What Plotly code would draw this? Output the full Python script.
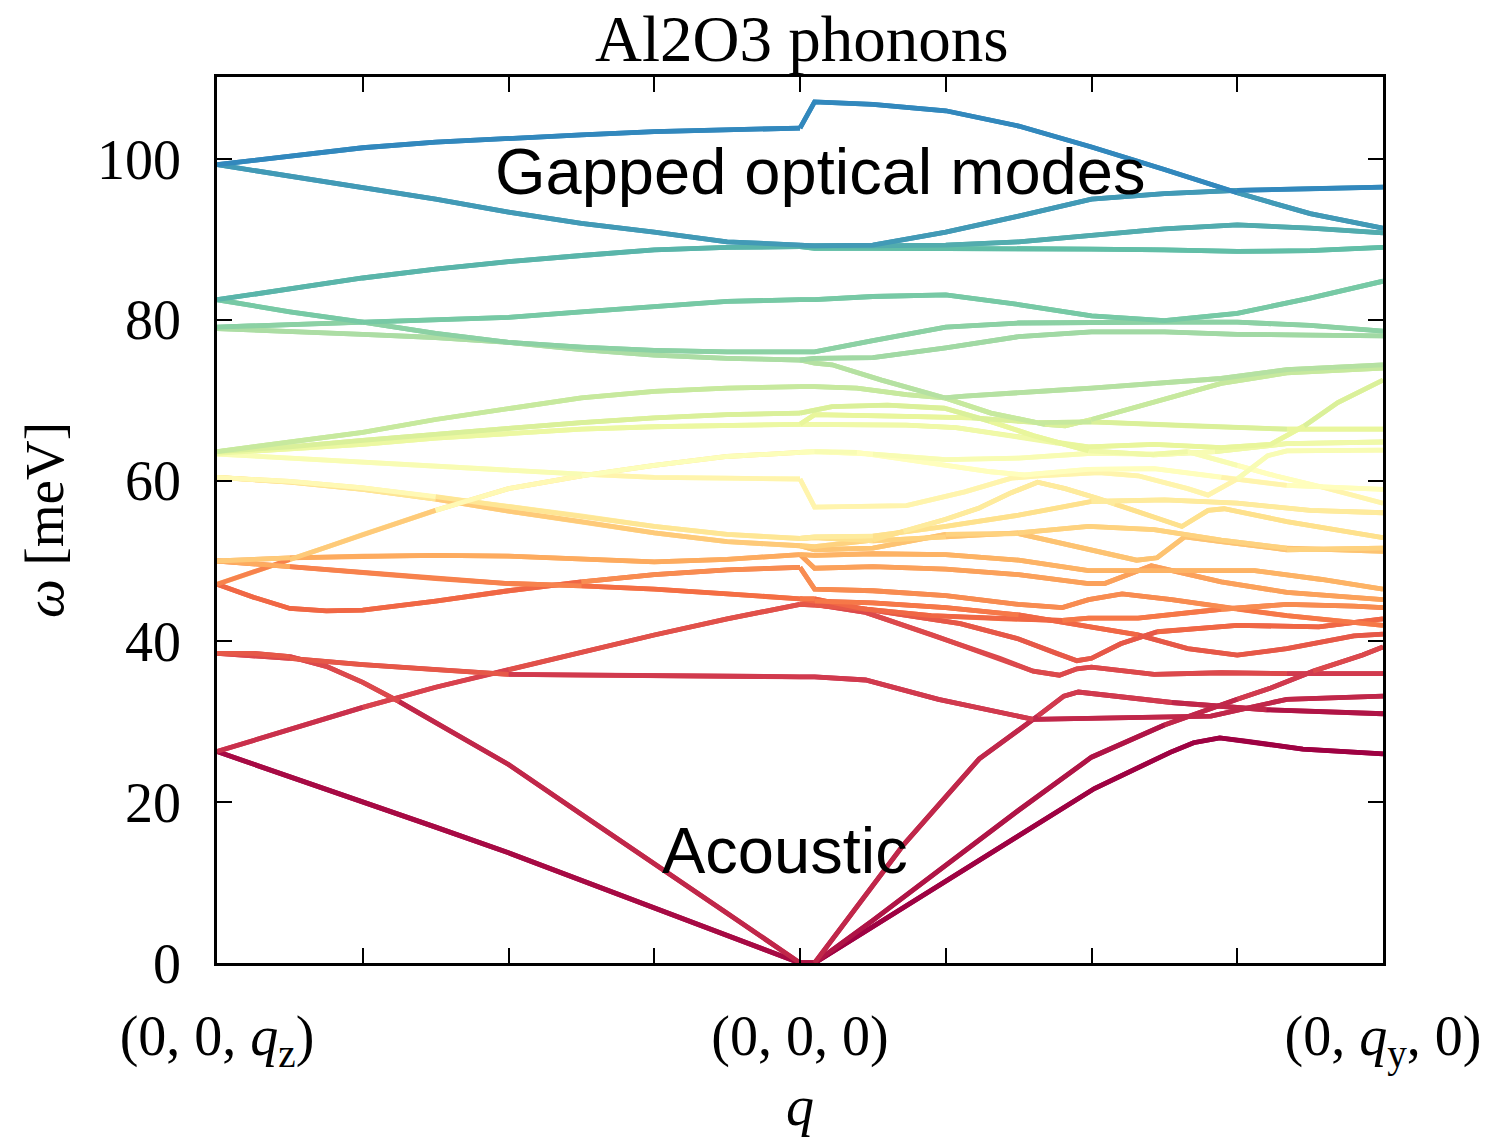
import numpy as np
import plotly.graph_objects as go
from plotly.colors import sample_colorscale, diverging

# ---------------- data: phonon branches (meV) ----------------
# Left path (0,0,qz) -> (0,0,0)
LEFT_Q = [0.0, 0.5, 1.0, 1.5, 2.0, 2.5, 3.0, 3.5, 4.0]
L_A = [99.3, 100.4, 101.4, 102.1, 102.6, 103.0, 103.4, 103.7, 103.85]
L_B = [99.3, 97.9, 96.5, 95.0, 93.4, 92.0, 90.9, 89.7, 89.3]
L_C = [82.5, 83.9, 85.2, 86.3, 87.25, 88.0, 88.7, 89.0, 89.1]
L_D = [82.5, 81.0, 79.7, 78.3, 77.2, 76.6, 76.2, 76.0, 76.0]
L_E = [79.1, 79.4, 79.7, 80.0, 80.3, 81.0, 81.7, 82.3, 82.5]
L_F = [78.9, 78.6, 78.2, 77.8, 77.2, 76.3, 75.6, 75.2, 75.0]
L_G = [63.6, 64.8, 66.0, 67.6, 69.0, 70.3, 71.1, 71.5, 71.7]
L_H = [63.6, 64.2, 65.0, 65.8, 66.5, 67.2, 67.8, 68.2, 68.4]
L_I = [63.4, 63.9, 64.5, 65.3, 65.9, 66.4, 66.7, 66.9, 67.0]
L_J = [63.3, 62.8, 62.3, 61.7, 61.2, 60.8, 60.4, 60.3, 60.2]
L_L = [60.4, 59.9, 59.1, 58.0, 56.8, 55.6, 54.3, 53.3, 52.8]
L_M = [60.4, 59.8, 58.9, 57.7, 56.2, 54.9, 53.5, 52.4, 51.9]
L_N = [50.0, 50.4, 50.6, 50.7, 50.6, 50.3, 49.9, 50.2, 50.8]
L_O = [50.0, 49.3, 48.5, 47.8, 47.2, 46.9, 46.5, 45.9, 45.3]
L_Q = [26.3, 29.0, 31.8, 34.3, 36.5, 38.7, 40.8, 42.8, 44.6]
L_S = [38.5, 37.9, 37.1, 36.5, 35.9, 35.8, 35.7, 35.7, 35.6]
L_T = [26.3, 23.2, 20.0, 16.9, 13.7, 10.3, 6.9, 3.4, 0.0]
FINE_Q = [0.0, 0.25, 0.5, 0.75, 1.0, 1.5, 2.0, 2.5, 3.0, 3.5, 4.0]
L_K = [47.1, 48.6, 50.2, 51.7, 53.3, 56.3, 59.0, 60.6, 61.9, 63.0, 63.5]
L_P = [47.1, 45.5, 44.1, 43.8, 43.9, 45.0, 46.3, 47.4, 48.3, 48.9, 49.2]
LR_Q = [0.0, 0.25, 0.5, 0.75, 1.0, 1.25, 1.5, 2.0, 2.5, 3.0, 3.5, 4.0]
L_R = [38.5, 38.5, 38.1, 36.9, 34.9, 32.5, 29.9, 24.7, 18.5, 12.4, 6.2, 0.0]

# (q, omega, degeneracy) -- degeneracies sum to 30 modes
LEFT_BRANCHES = [(LEFT_Q, L_A, 1), (LEFT_Q, L_B, 1), (LEFT_Q, L_C, 2),
                 (LEFT_Q, L_D, 1), (LEFT_Q, L_E, 1), (LEFT_Q, L_F, 2),
                 (LEFT_Q, L_G, 1), (LEFT_Q, L_H, 1), (LEFT_Q, L_I, 2),
                 (LEFT_Q, L_J, 1), (FINE_Q, L_K, 2), (LEFT_Q, L_L, 2),
                 (LEFT_Q, L_M, 2), (LEFT_Q, L_N, 2), (LEFT_Q, L_O, 2),
                 (FINE_Q, L_P, 1), (LEFT_Q, L_Q, 2), (LR_Q, L_R, 1),
                 (LEFT_Q, L_S, 1), (LEFT_Q, L_T, 2)]

# Right path (0,0,0) -> (0,qy,0)
RIGHT_Q = [4.0, 4.1, 4.5, 5.0, 5.5, 6.0, 6.5, 7.0, 7.5, 8.0]
R_1 = [103.85, 107.1, 106.8, 106.0, 104.1, 101.5, 98.7, 95.8, 93.2, 91.4]
R_2 = [89.3, 89.2, 89.3, 90.9, 92.9, 95.0, 95.7, 96.1, 96.3, 96.5]
R_3 = [89.1, 89.2, 89.2, 89.3, 89.7, 90.5, 91.3, 91.8, 91.4, 90.8]
R_4 = [89.1, 88.9, 88.9, 88.9, 88.9, 88.8, 88.7, 88.5, 88.6, 89.0]
R_5 = [82.5, 82.5, 82.9, 83.1, 81.9, 80.5, 79.9, 80.8, 82.7, 84.8]
R_6 = [76.0, 76.0, 77.4, 79.1, 79.6, 79.7, 79.7, 79.7, 79.3, 78.6]
R_7 = [75.0, 75.2, 75.3, 76.5, 77.9, 78.5, 78.5, 78.2, 78.1, 78.0]
R_K = [52.8, 53.0, 53.1, 54.3, 55.7, 57.4, 57.6, 57.2, 56.3, 56.0]

C_Q = [4.0, 4.1, 4.22, 4.56, 4.99, 5.31, 5.68, 5.82, 6.0, 6.43, 6.89, 7.34, 8.0]
C_W = [75.0, 74.6, 74.4, 72.5, 70.3, 68.4, 67.0, 66.8, 67.6, 69.7, 72.1, 73.4, 74.0]
D_Q = [4.0, 4.1, 4.39, 4.73, 4.99, 5.13, 5.82, 6.0, 6.89, 7.34, 8.0]
D_W = [71.7, 71.7, 71.5, 70.7, 70.3, 70.5, 71.3, 71.5, 72.7, 73.8, 74.4]
E_Q = [4.0, 4.1, 4.73, 5.18, 5.64, 6.0, 6.66, 7.34, 8.0]
E_W = [67.0, 68.2, 68.0, 67.8, 67.2, 67.3, 66.8, 66.4, 66.4]
F_Q = [4.0, 4.1, 4.73, 5.07, 5.41, 5.75, 5.98, 6.43, 6.89, 7.23, 7.46, 7.69, 8.0]
F_W = [67.0, 67.0, 66.9, 66.6, 65.7, 64.7, 64.2, 64.5, 64.1, 64.5, 66.8, 69.7, 72.5]
G_Q = [4.0, 4.1, 4.22, 4.6, 4.99, 5.3, 5.6, 5.98, 6.43, 6.85, 7.34, 8.0]
G_W = [68.4, 68.8, 69.2, 69.4, 69.0, 67.4, 65.6, 63.7, 63.2, 63.6, 64.6, 64.8]
G2_Q = [4.0, 4.1, 4.5, 5.0, 5.5, 6.0, 6.43, 6.66, 7.0, 7.26, 7.58, 8.0]
G2_W = [63.5, 63.6, 63.3, 62.6, 62.8, 63.4, 63.3, 63.6, 61.9, 60.6, 59.2, 57.2]
H_Q = [4.0, 4.1, 4.39, 4.85, 5.31, 5.54, 5.98, 6.43, 6.89, 7.34, 8.0]
H_W = [63.5, 63.6, 63.5, 62.3, 61.1, 60.7, 61.4, 61.5, 60.4, 59.4, 58.9]
I_Q = [4.0, 4.1, 4.73, 5.13, 5.45, 5.64, 6.05, 6.32, 6.66, 6.80, 7.0, 7.21, 7.34, 8.0]
I_W = [60.2, 56.7, 56.9, 58.6, 60.3, 60.6, 61.0, 60.6, 59.0, 58.2, 60.2, 63.1, 63.7, 63.8]
J_Q = [4.0, 4.1, 4.5, 4.71, 5.0, 5.23, 5.45, 5.63, 5.82, 6.04, 6.16, 6.55, 6.62, 6.8, 6.91, 7.34, 8.0]
J_W = [51.9, 51.8, 52.6, 53.7, 55.2, 56.6, 58.5, 59.8, 59.0, 57.8, 57.1, 54.7, 54.3, 56.3, 56.5, 54.9, 52.9]
Z3_Q = [4.0, 4.1, 4.5, 5.0, 5.5, 5.98, 6.43, 6.89, 7.34, 8.0]
Z3_W = [52.8, 52.9, 52.5, 53.0, 53.5, 54.3, 53.9, 52.6, 51.6, 51.2]
Z4_Q = [4.0, 4.1, 4.5, 5.0, 5.5, 5.98, 6.31, 6.45, 6.64, 6.89, 7.34, 8.0]
Z4_W = [51.9, 51.4, 51.6, 53.3, 53.4, 51.4, 50.1, 50.4, 53.0, 52.4, 51.4, 51.6]
Z5_Q = [4.0, 4.1, 4.5, 5.0, 5.5, 5.98, 6.43, 7.12, 7.58, 8.0]
Z5_W = [50.8, 50.7, 50.9, 50.8, 50.1, 48.8, 48.8, 48.8, 47.7, 46.5]
Z6_Q = [4.0, 4.1, 4.5, 5.0, 5.5, 5.98, 6.09, 6.41, 6.89, 7.34, 8.0]
Z6_W = [50.8, 49.1, 49.3, 49.0, 48.3, 47.2, 47.2, 49.4, 47.4, 46.1, 45.2]
Z7_Q = [4.0, 4.1, 4.5, 5.0, 5.5, 5.8, 5.98, 6.21, 6.55, 7.0, 7.34, 8.0]
Z7_W = [49.2, 46.5, 46.3, 45.7, 44.6, 44.2, 45.2, 45.9, 45.2, 44.0, 43.2, 42.0]
Z8_Q = [4.0, 4.1, 4.45, 4.9, 5.4, 5.8, 5.98, 6.32, 6.89, 7.34, 7.8, 8.0]
Z8_W = [45.3, 45.3, 44.0, 43.2, 42.8, 42.6, 42.9, 42.9, 44.0, 44.6, 44.4, 44.2]
Z9_Q = [4.0, 4.1, 4.5, 5.0, 5.5, 5.98, 6.32, 6.66, 7.0, 7.34, 7.8, 8.0]
Z9_W = [45.3, 45.0, 44.8, 44.2, 43.3, 41.8, 40.8, 39.1, 38.3, 39.1, 40.7, 40.9]
Z10_Q = [4.0, 4.1, 4.45, 5.1, 5.5, 5.76, 5.9, 6.0, 6.2, 6.45, 7.0, 7.56, 8.0]
Z10_W = [44.6, 44.5, 44.0, 42.2, 40.3, 38.5, 37.6, 37.9, 39.7, 41.2, 42.0, 41.8, 42.8]
Z11_Q = [4.0, 4.1, 4.45, 4.91, 5.37, 5.6, 5.78, 5.9, 6.0, 6.43, 6.89, 7.34, 8.0]
Z11_W = [44.6, 44.6, 43.6, 40.8, 37.9, 36.3, 35.8, 36.6, 36.8, 35.9, 36.1, 36.0, 36.0]
S_Q = [4.0, 4.1, 4.45, 4.95, 5.6, 6.3, 6.82, 7.34, 8.0]
S_W = [35.6, 35.6, 35.2, 32.8, 30.3, 30.5, 30.7, 32.8, 33.2]
AC1_Q = [4.0, 4.1, 4.71, 5.23, 5.63, 5.81, 5.91, 6.55, 7.2, 8.0]
AC1_W = [0.0, 0.0, 14.7, 25.4, 30.7, 33.2, 33.7, 32.4, 31.5, 31.0]
AC2_Q = [4.0, 4.1, 4.5, 5.0, 5.5, 6.0, 6.5, 7.0, 7.23, 7.52, 7.86, 8.0]
AC2_W = [0.0, 0.0, 5.3, 12.2, 19.0, 25.6, 29.6, 32.8, 34.2, 36.3, 38.3, 39.3]
AC3_Q = [4.0, 4.1, 6.02, 6.54, 6.70, 6.88, 7.06, 7.45, 8.0]
AC3_W = [0.0, 0.0, 21.7, 26.2, 27.4, 28.0, 27.6, 26.6, 26.0]

RIGHT_BRANCHES = [(RIGHT_Q, R_1, 1), (RIGHT_Q, R_2, 1), (RIGHT_Q, R_3, 1),
                  (RIGHT_Q, R_4, 1), (RIGHT_Q, R_5, 1), (RIGHT_Q, R_6, 1),
                  (RIGHT_Q, R_7, 1), (RIGHT_Q, R_K, 1),
                  (C_Q, C_W, 1), (D_Q, D_W, 1), (E_Q, E_W, 1), (F_Q, F_W, 1),
                  (G_Q, G_W, 1), (G2_Q, G2_W, 1), (H_Q, H_W, 1), (I_Q, I_W, 1),
                  (J_Q, J_W, 1), (Z3_Q, Z3_W, 1), (Z4_Q, Z4_W, 1),
                  (Z5_Q, Z5_W, 1), (Z6_Q, Z6_W, 1), (Z7_Q, Z7_W, 1),
                  (Z8_Q, Z8_W, 1), (Z9_Q, Z9_W, 1), (Z10_Q, Z10_W, 1),
                  (Z11_Q, Z11_W, 1), (S_Q, S_W, 1), (AC1_Q, AC1_W, 1),
                  (AC2_Q, AC2_W, 1), (AC3_Q, AC3_W, 1)]

X_TICKS = [0, 1, 2, 3, 4, 5, 6, 7, 8]
X_LABELS = ["(0, 0, <i>q</i><sub>z</sub>)", "", "", "", "(0, 0, 0)", "", "", "",
            "(0, <i>q</i><sub>y</sub>, 0)"]
Y_TICKS = [0, 20, 40, 60, 80, 100]
N_MODES = 30

# ---------------- colouring: band index (energy order) -> Spectral ----------------
SPEC = diverging.Spectral


def band_color(idx):
    return sample_colorscale(SPEC, [max(0.0, min(1.0, idx / (N_MODES - 1))) * 0.9])[0]


def segment_ranks(branches, k):
    """Energy-order index of each segment of branch k among all modes."""
    q, w, deg = branches[k]
    ranks = []
    for s in range(len(q) - 1):
        xm = 0.5 * (q[s] + q[s + 1])
        ym = 0.5 * (w[s] + w[s + 1])
        r = (deg - 1) / 2.0
        for j, (qj, wj, dj) in enumerate(branches):
            if j == k:
                continue
            v = float(np.interp(xm, qj, wj))
            if v < ym - 1e-6:
                r += dj
            elif abs(v - ym) <= 1e-6:
                r += dj / 2.0
        ranks.append(r)
    return ranks


fig = go.Figure()
LW = 4.8
segments = []
bases = []
for branches in (LEFT_BRANCHES, RIGHT_BRANCHES):
    for k, (q, w, deg) in enumerate(branches):
        ranks = segment_ranks(branches, k)
        bases.append((float(np.mean(ranks)), q, w))
        start = 0
        for s in range(1, len(ranks) + 1):
            if s == len(ranks) or abs(ranks[s] - ranks[start]) > 0.25:
                segments.append((ranks[start], q[start:s + 1], w[start:s + 1]))
                start = s

# full branch underneath (fills the joints), coloured segments on top
for r, qs, ws in sorted(bases, key=lambda t: t[0]):
    fig.add_trace(go.Scatter(x=qs, y=ws, mode="lines",
                             line=dict(color=band_color(r), width=LW),
                             showlegend=False, hoverinfo="skip"))
for r, qs, ws in sorted(segments, key=lambda t: t[0]):
    fig.add_trace(go.Scatter(x=qs, y=ws, mode="lines",
                             line=dict(color=band_color(r), width=LW),
                             showlegend=False, hoverinfo="skip"))

SERIF = "Liberation Serif, Times New Roman, serif"
SANS = "Liberation Sans, Arial, sans-serif"

fig.add_annotation(x=4.137, y=98.45, xref="x", yref="y", text="Gapped optical modes",
                   showarrow=False, font=dict(family=SANS, size=65, color="black"),
                   xanchor="center", yanchor="middle")
fig.add_annotation(x=3.9, y=14.0, xref="x", yref="y", text="Acoustic",
                   showarrow=False, font=dict(family=SANS, size=65, color="black"),
                   xanchor="center", yanchor="middle")

fig.update_layout(
    width=1493, height=1139,
    margin=dict(l=217, r=107, t=77, b=166),
    paper_bgcolor="white", plot_bgcolor="white",
    title=dict(text="Al2O3 phonons", x=0.537, xanchor="center", y=0.966,
               yanchor="middle", yref="container",
               font=dict(family=SERIF, size=65, color="black")),
    xaxis=dict(range=[0, 8], tickvals=X_TICKS, ticktext=X_LABELS,
               ticks="inside", ticklen=15, tickwidth=1.5, tickcolor="black",
               showline=True, linecolor="black", linewidth=2.5, mirror="allticks",
               showgrid=False, zeroline=False, ticklabelstandoff=22,
               tickfont=dict(family=SERIF, size=56, color="black"),
               title=dict(text="<i>q</i>", standoff=12,
                          font=dict(family=SERIF, size=56, color="black"))),
    yaxis=dict(range=[0, 110.2], tickvals=Y_TICKS,
               ticks="inside", ticklen=15, tickwidth=1.5, tickcolor="black",
               showline=True, linecolor="black", linewidth=2.5, mirror="allticks",
               showgrid=False, zeroline=False, ticklabelstandoff=22,
               tickfont=dict(family=SERIF, size=56, color="black"),
               title=dict(text="<i>ω</i> [meV]", standoff=16,
                          font=dict(family=SERIF, size=55, color="black"))),
)

fig.write_html("out.html")
